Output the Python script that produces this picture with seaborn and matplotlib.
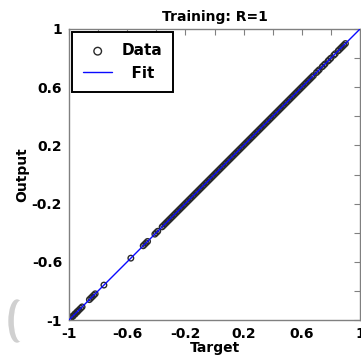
import matplotlib
matplotlib.use('Agg')
import matplotlib.pyplot as plt
import seaborn as sns
import pandas as pd
import numpy as np
from matplotlib.patches import Ellipse

sns.set_style('white', rc={'text.color': 'black', 'axes.labelcolor': 'black',
                           'xtick.color': '#808080', 'ytick.color': '#808080'})
plt.rcParams['font.family'] = 'DejaVu Sans'
plt.rcParams['xtick.labelcolor'] = 'black'
plt.rcParams['ytick.labelcolor'] = 'black'

target = [-1.0, -0.99, -0.985, -0.975, -0.97, -0.96, -0.955, -0.945, -0.94, -0.93,
          -0.92, -0.91, -0.86, -0.85, -0.84, -0.83, -0.82, -0.76, -0.575,
          -0.49, -0.48, -0.47, -0.46, -0.41, -0.40, -0.39,
          -0.36, -0.35, -0.34, -0.33, -0.32, -0.31, -0.30, -0.29, -0.28, -0.27,
          -0.26, -0.25, -0.24, -0.23, -0.22, -0.21, -0.20, -0.19, -0.18, -0.17,
          -0.16, -0.15, -0.14, -0.13, -0.12, -0.11, -0.10, -0.09, -0.08, -0.07,
          -0.06, -0.05, -0.04, -0.03, -0.02, -0.01, 0.0, 0.01, 0.02, 0.03,
          0.04, 0.05, 0.06, 0.07, 0.08, 0.09, 0.10, 0.11, 0.12, 0.13,
          0.14, 0.15, 0.16, 0.17, 0.18, 0.19, 0.20, 0.21, 0.22, 0.23,
          0.24, 0.25, 0.26, 0.27, 0.28, 0.29, 0.30, 0.31, 0.32, 0.33,
          0.34, 0.35, 0.36, 0.37, 0.38, 0.39, 0.40, 0.41, 0.42, 0.43,
          0.44, 0.45, 0.46, 0.47, 0.48, 0.49, 0.50, 0.51, 0.52, 0.53,
          0.54, 0.55, 0.56, 0.57, 0.58, 0.59, 0.60, 0.61, 0.62, 0.63,
          0.64, 0.65, 0.66, 0.67, 0.68, 0.70, 0.71, 0.72, 0.74, 0.75,
          0.76, 0.78, 0.79, 0.80, 0.82, 0.83, 0.85, 0.86, 0.87, 0.88, 0.89, 0.90]
output = list(target)

fit_x = [-1.0, 1.0]
fit_y = [-1.0, 1.0]

tick_vals = [-1.0, -0.8, -0.6, -0.4, -0.2, 0.0, 0.2, 0.4, 0.6, 0.8, 1.0]
tick_text = ['-1', '', '-0.6', '', '-0.2', '', '0.2', '', '0.6', '', '1']

df = pd.DataFrame({'Target': target, 'Output': output})

fig = plt.figure(figsize=(3.61, 3.60), dpi=100)
ax = fig.add_axes([69 / 361, 40 / 360, 291 / 361, 291 / 360])

sns.scatterplot(data=df, x='Target', y='Output', ax=ax, marker='o', s=16,
                color='#2a2a2a', facecolors='none', edgecolor='#2a2a2a',
                linewidth=1.0, label='Data', zorder=2)
sns.lineplot(x=fit_x, y=fit_y, ax=ax, color='#0a0aff', linewidth=1.0,
             label='Fit', zorder=3)

ax.set_xlim(-1, 1)
ax.set_ylim(-1, 1)
ax.set_xticks(tick_vals)
ax.set_yticks(tick_vals)
ax.set_xticklabels(tick_text, fontsize=10, fontweight='bold')
ax.set_yticklabels(tick_text, fontsize=10, fontweight='bold')
ax.tick_params(direction='in', length=4, width=0.8, color='#808080',
               labelcolor='black', top=True, right=True, pad=5)
for sp in ax.spines.values():
    sp.set_color('#808080')
    sp.set_linewidth(1.0)

ax.set_title('Training: R=1', fontsize=10, fontweight='bold', pad=6, color='black')
ax.set_xlabel('Target', fontsize=10, fontweight='bold', labelpad=0)
ax.set_ylabel('Output', fontsize=10, fontweight='bold', labelpad=2)

leg = ax.legend(loc='upper left', bbox_to_anchor=(0.012, 0.988), frameon=True,
                fancybox=False, edgecolor='black', framealpha=1, borderpad=0.7,
                handlelength=1.9, handletextpad=0.6, labelspacing=0.5,
                prop={'weight': 'bold', 'size': 11}, borderaxespad=0)
leg.get_frame().set_linewidth(1.4)
for h in leg.legend_handles:
    try:
        h.set_sizes([30])
    except AttributeError:
        pass
for t in leg.get_texts():
    t.set_color('black')
leg.get_texts()[1].set_text('  Fit')

# faint grey crescent at the lower-left edge
fig.patches.append(Ellipse((17 / 361, 1 - 321 / 360), 16 / 361, 42 / 360,
                           transform=fig.transFigure, color='#d0d0d0', zorder=0))
fig.patches.append(Ellipse((21 / 361, 1 - 321 / 360), 13 / 361, 40 / 360,
                           transform=fig.transFigure, color='white', zorder=0))

plt.savefig('out.png', dpi=100)
plt.close()
